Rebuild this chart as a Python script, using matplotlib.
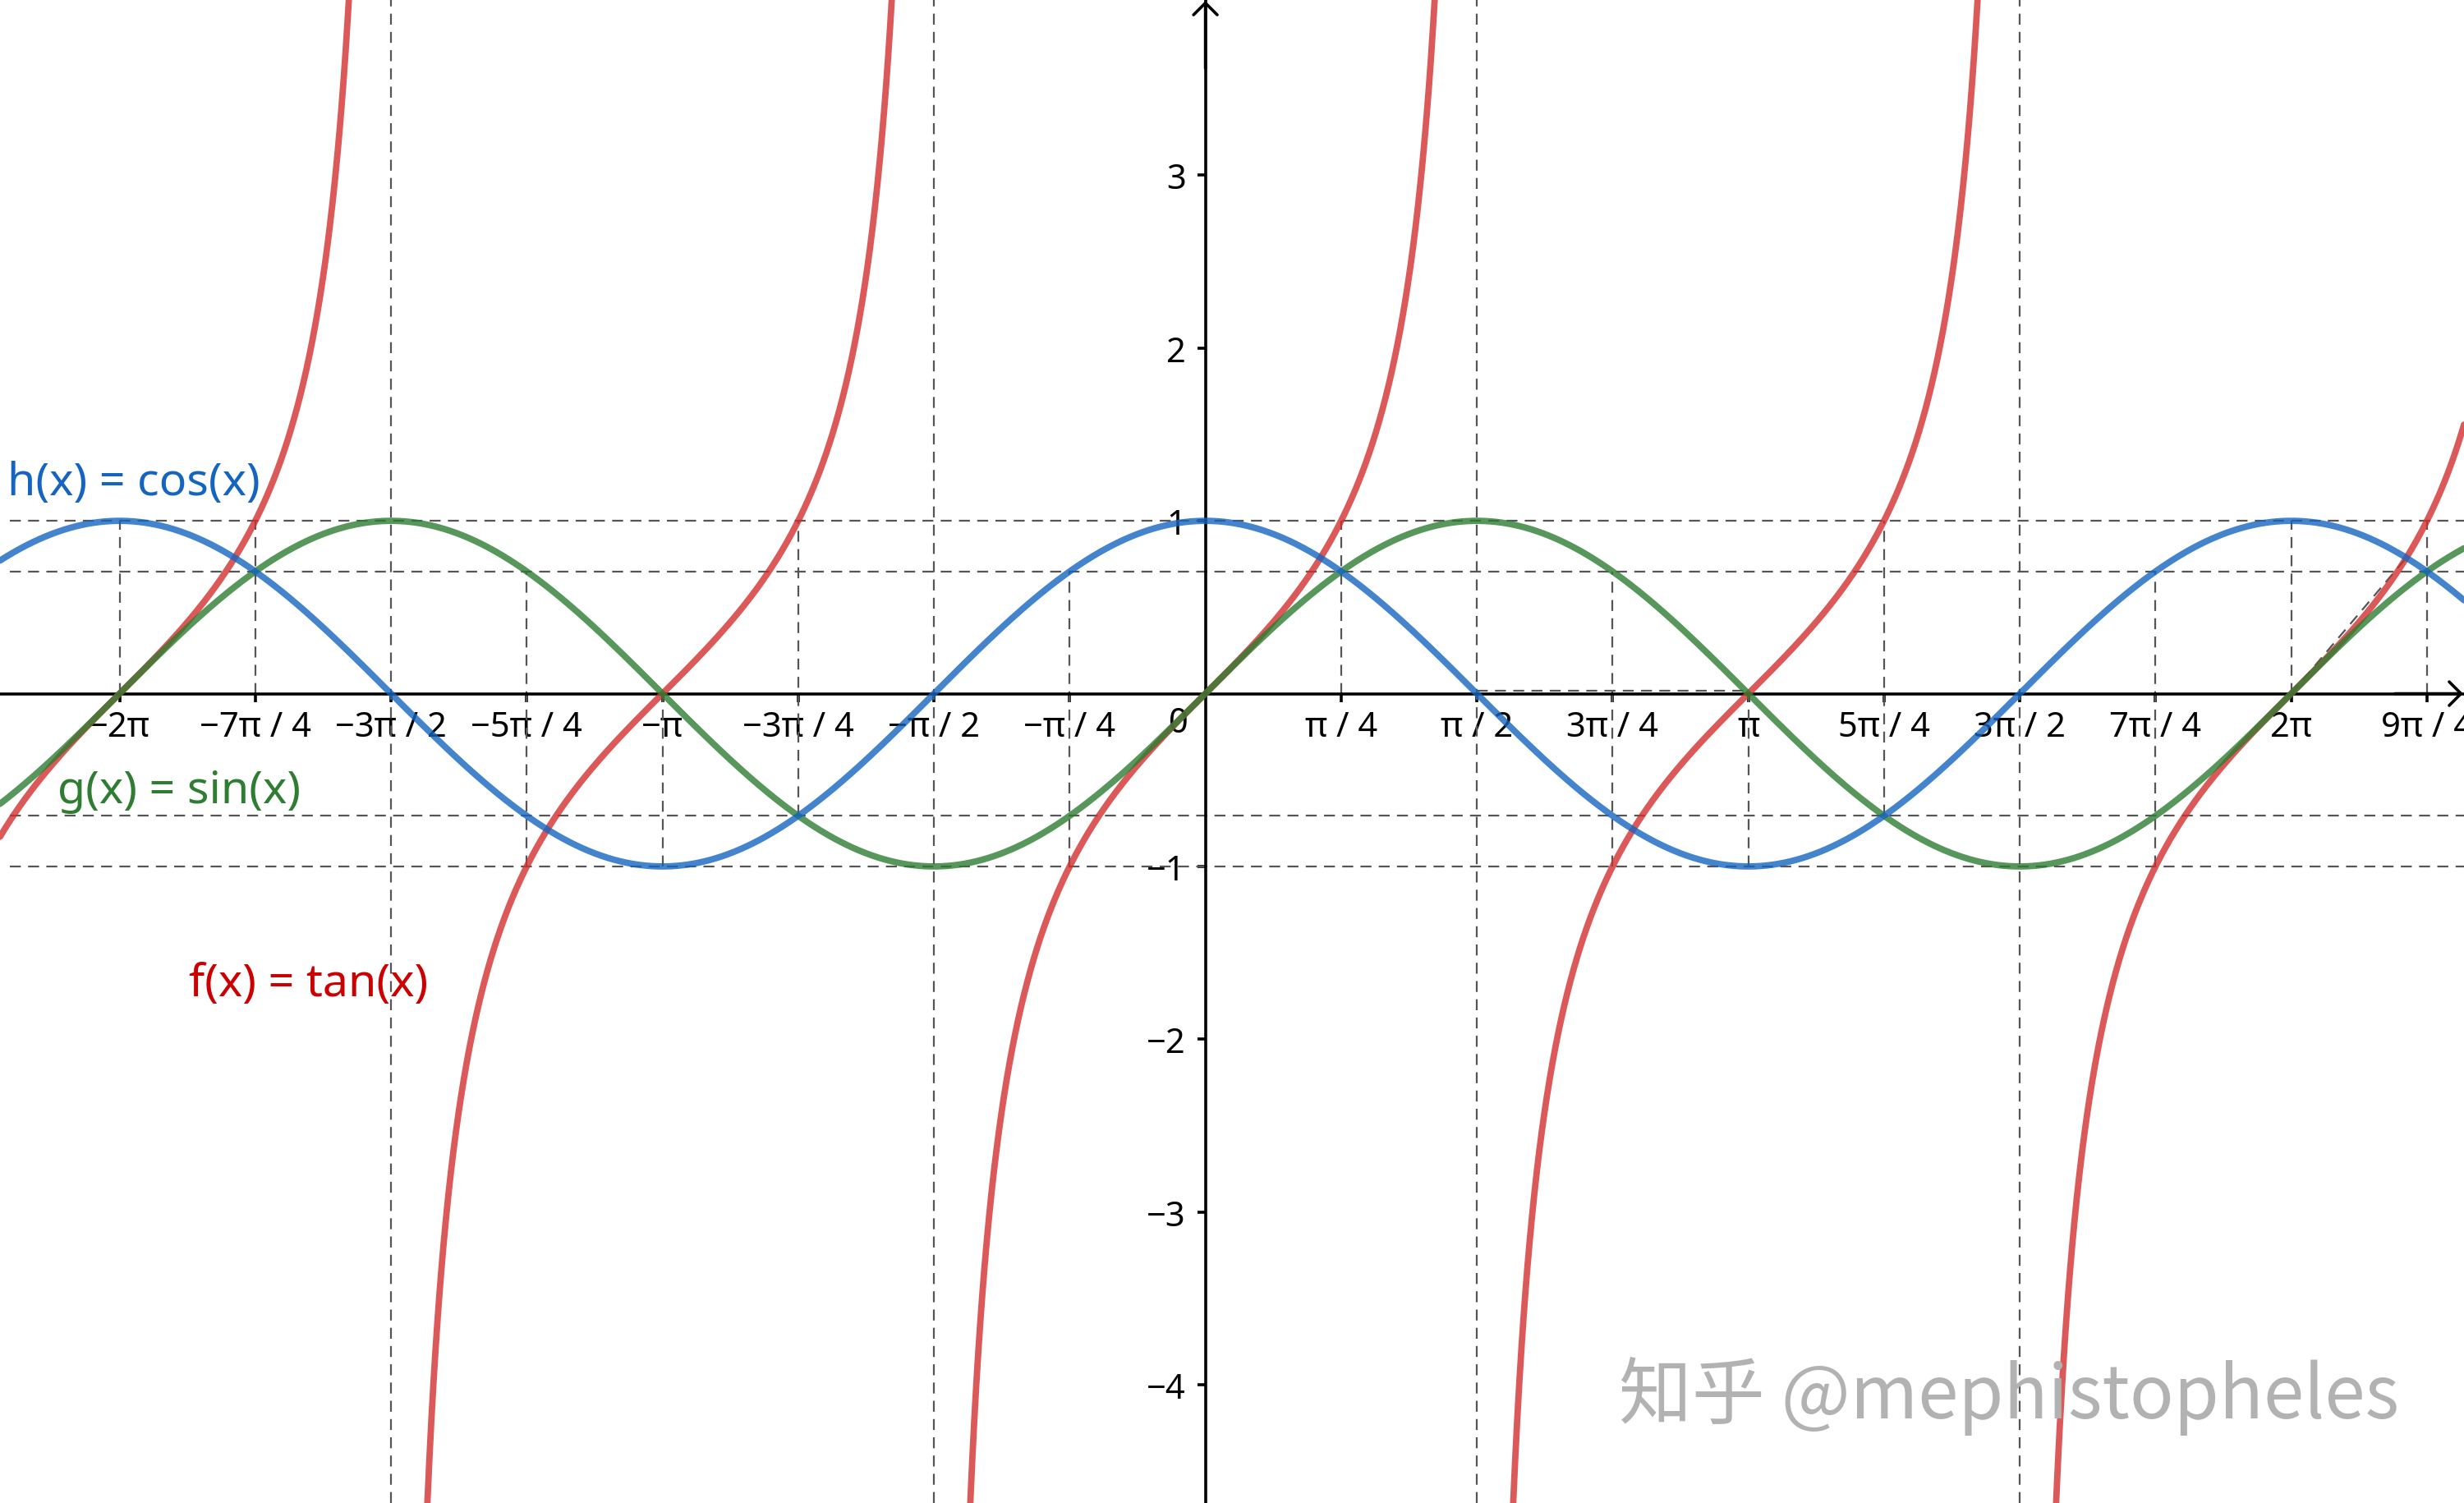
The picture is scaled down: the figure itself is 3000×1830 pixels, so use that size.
import numpy as np
import matplotlib
matplotlib.use('Agg')
import matplotlib.pyplot as plt

plt.rcParams['font.family'] = ['Noto Sans', 'DejaVu Sans']

PI = np.pi

# ---- data ----
function_names = ['tan', 'sin', 'cos']
function_labels = ['f(x) = tan(x)', 'g(x) = sin(x)', 'h(x) = cos(x)']
line_colors = ['#D32F2F', '#2E7D32', '#1565C0']
label_colors = ['#CC0000', '#2E7D32', '#1565C0']
label_pos_x = [-5.88, -6.64, -6.93]
label_pos_y = [-1.68, -0.56, 1.22]

x_tick_quarters = [-8, -7, -6, -5, -4, -3, -2, -1, 1, 2, 3, 4, 5, 6, 7, 8, 9]
x_tick_labels = ['−2π', '−7π / 4', '−3π / 2', '−5π / 4', '−π', '−3π / 4', '−π / 2',
                 '−π / 4', 'π / 4', 'π / 2', '3π / 4', 'π', '5π / 4', '3π / 2',
                 '7π / 4', '2π', '9π / 4']
y_ticks = [-4, -3, -2, -1, 1, 2, 3]
y_tick_labels = ['−4', '−3', '−2', '−1', '1', '2', '3']

h_guides = [1.0, 0.7071, -0.7071, -1.0]
v_guide_quarters = [-8, -7, -6, -5, -4, -3, -2, -1, 1, 2, 3, 4, 5, 6, 7, 8, 9]
v_guide_low = [0, 0, None, -1, -1, -0.7071, None, -1, 0, None, -1, -1, -0.7071, None, -1, 0, 0]
v_guide_high = [1, 1, None, 0.7071, 0, 1, None, 0.7071, 1, None, 0.7071, 0, 1, None, 0.7071, 1, 1]
# extra dashed segments (x0, y0, x1, y1)
extra_x0 = [PI / 2, 2 * PI]
extra_y0 = [0.015, 0.0]
extra_x1 = [PI, 2 * PI + 0.666]
extra_y1 = [0.015, 0.786]

x_min, x_max = -6.975, 7.283
y_min, y_max = -4.684, 4.019

# ---- figure ----
fig = plt.figure(figsize=(30, 18.31), dpi=100)
ax = fig.add_axes([0, 0, 1, 1])
ax.set_xlim(x_min, x_max)
ax.set_ylim(y_min, y_max)
ax.set_facecolor('white')

guide_kw = dict(color='#555555', lw=1.6, dashes=(6, 4), zorder=1)
for y in h_guides:
    ax.axhline(y, xmin=0.004, **guide_kw)
for q, lo, hi in zip(v_guide_quarters, v_guide_low, v_guide_high):
    xv = q * PI / 4
    if lo is None:
        ax.axvline(xv, **guide_kw)
    else:
        ax.plot([xv, xv], [lo, hi], **guide_kw)
for a, b, c, d in zip(extra_x0, extra_y0, extra_x1, extra_y1):
    ax.plot([a, c], [b, d], **guide_kw)

xs = np.linspace(x_min, x_max, 6000)
funcs = {'tan': np.tan, 'sin': np.sin, 'cos': np.cos}
for name, col in zip(function_names, line_colors):
    ys = funcs[name](xs)
    if name == 'tan':
        ys = np.where(np.abs(ys) > 12, np.nan, ys)
    ax.plot(xs, ys, color=col, lw=5.6, alpha=0.8, zorder=3, solid_capstyle='round')

for txt, col, lx, ly in zip(function_labels, label_colors, label_pos_x, label_pos_y):
    ax.text(lx, ly, txt, color=col, fontsize=40, ha='left', va='center', zorder=4)

# axes
for s in ['top', 'right']:
    ax.spines[s].set_visible(False)
for s in ['left', 'bottom']:
    ax.spines[s].set_position(('data', 0))
    ax.spines[s].set_linewidth(2.6)
    ax.spines[s].set_zorder(2.5)
ax.set_axisbelow(True)

ax.set_xticks([q * PI / 4 for q in x_tick_quarters])
ax.set_xticklabels(x_tick_labels)
ax.set_yticks(y_ticks)
ax.set_yticklabels(y_tick_labels)
ax.tick_params(axis='x', direction='out', length=7, width=2.6, labelsize=30, pad=7)
ax.tick_params(axis='y', direction='out', length=7, width=2.6, labelsize=30, pad=10)
ax.text(-0.1, -0.07, '0', fontsize=30, ha='right', va='top', zorder=1)

arrow_kw = dict(arrowstyle='->,head_length=0.4,head_width=0.4', lw=2.6, color='black',
                shrinkA=0, shrinkB=0, mutation_scale=26)
ax.annotate('', xy=(x_max - 0.005, 0), xytext=(x_max - 0.4, 0), arrowprops=arrow_kw, zorder=5)
ax.annotate('', xy=(0, y_max - 0.01), xytext=(0, y_max - 0.4), arrowprops=arrow_kw, zorder=5)

fig.text(0.657, 0.0715, '知乎 @mephistopheles', fontsize=64, color='#b2b2b2',
         family=['Noto Sans CJK SC', 'DejaVu Sans'], ha='left', va='center')

fig.savefig('out.png', dpi=100, facecolor='white')
